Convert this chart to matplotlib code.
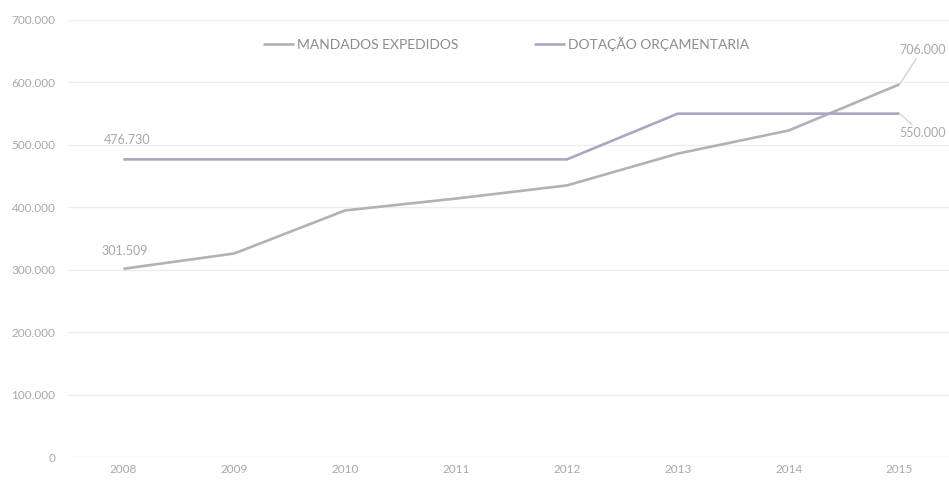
import matplotlib.pyplot as plt
import matplotlib.ticker as mticker

plt.rcParams['font.family'] = ['Lato', 'DejaVu Sans']

years = ['2008', '2009', '2010', '2011', '2012', '2013', '2014', '2015']
mandados = [301509, 326000, 395000, 414000, 435000, 486000, 523000, 597000]
dotacao = [476730, 476730, 476730, 476730, 476730, 550000, 550000, 550000]

c_mand = '#b2b0ba'
c_dot = '#ada5c6'
c_text = '#a8a8a8'

fig = plt.figure(figsize=(9.49, 4.8), dpi=100)
ax = fig.add_axes([68 / 949, 23 / 480, 887 / 949, 437 / 480])

x = list(range(len(years)))
ax.plot(x, mandados, color=c_mand, lw=1.9, label='MANDADOS EXPEDIDOS',
        solid_capstyle='butt')
ax.plot(x, dotacao, color=c_dot, lw=1.9, label='DOTAÇÃO ORÇAMENTARIA',
        solid_capstyle='butt')

ax.set_xlim(-0.5, 7.5)
ax.set_ylim(0, 700000)
ax.set_xticks(x)
ax.set_xticklabels(years)
ax.yaxis.set_major_locator(mticker.MultipleLocator(100000))
ax.yaxis.set_major_formatter(
    mticker.FuncFormatter(lambda v, p: '{:,.0f}'.format(v).replace(',', '.')))
ax.tick_params(axis='both', length=0, labelsize=8.5, labelcolor=c_text)
ax.tick_params(axis='y', pad=9)
ax.tick_params(axis='x', pad=5)
ax.grid(axis='y', color='#ededed', lw=1)
ax.set_axisbelow(True)
for s in ax.spines.values():
    s.set_visible(False)

fmt = lambda v: '{:,.0f}'.format(v).replace(',', '.')

# data labels
ax.annotate(fmt(dotacao[0]), (x[0], dotacao[0]), xytext=(-14, 11),
            textcoords='offset points', color=c_text, fontsize=9)
ax.annotate(fmt(mandados[0]), (x[0], mandados[0]), xytext=(-16, 10),
            textcoords='offset points', color=c_text, fontsize=9)
ax.annotate('706.000', (x[-1], mandados[-1]), xytext=(33, 22),
            textcoords='offset points', color=c_text, fontsize=9, ha='right',
            arrowprops=dict(arrowstyle='-', color='#d2d2d2', lw=1,
                            shrinkA=0, shrinkB=0))
ax.annotate(fmt(dotacao[-1]), (x[-1], dotacao[-1]), xytext=(33, -17),
            textcoords='offset points', color=c_text, fontsize=9, ha='right',
            arrowprops=dict(arrowstyle='-', color='#d2d8cc', lw=1,
                            shrinkA=0, shrinkB=0))

leg = ax.legend(loc='upper center', bbox_to_anchor=(0.494, 0.99), ncol=2,
                frameon=False, fontsize=10, handlelength=2.2,
                handletextpad=0.2, columnspacing=5.5)
for t in leg.get_texts():
    t.set_color('#8c8c8c')

fig.savefig('out.png', dpi=100)
